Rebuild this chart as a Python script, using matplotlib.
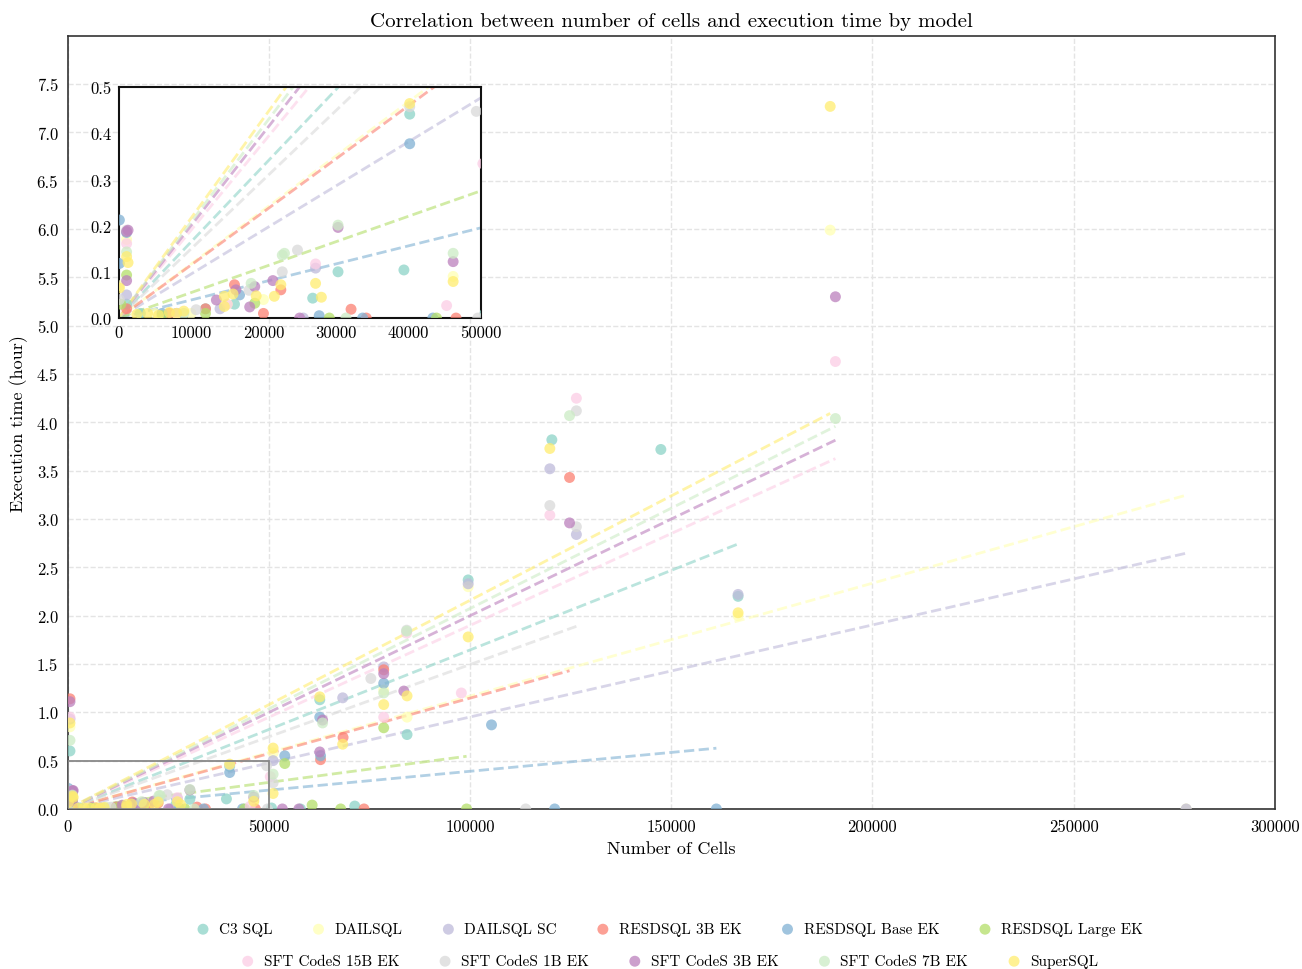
import numpy as np
import matplotlib
matplotlib.use("Agg")
import matplotlib.pyplot as plt
from matplotlib.patches import Rectangle
from matplotlib.ticker import StrMethodFormatter

plt.rcParams["font.family"] = ["cmr10", "DejaVu Serif"]
plt.rcParams["axes.unicode_minus"] = False

MODELS = [
    "C3 SQL", "DAILSQL", "DAILSQL SC", "RESDSQL 3B EK", "RESDSQL Base EK",
    "RESDSQL Large EK", "SFT CodeS 15B EK", "SFT CodeS 1B EK",
    "SFT CodeS 3B EK", "SFT CodeS 7B EK", "SuperSQL",
]
COLORS = [
    "#8dd3c7", "#ffffb3", "#bebada", "#fb8072", "#80b1d3", "#b3de69",
    "#fccde5", "#d9d9d9", "#bc80bd", "#ccebc5", "#ffed6f",
]

# number of cells / execution time (hour), one pair of lists per model
c3_cells = [500, 1100, 3000, 8000, 12000, 16000, 26800, 30300, 39400, 40200,
            50600, 57800, 62600, 71300, 84300, 99500, 120300, 147400, 166600]
c3_hours = [0.60, 0.03, 0.01, 0.01, 0.02, 0.03, 0.043, 0.10, 0.104, 0.441,
            0.01, 0.0, 1.13, 0.03, 0.77, 2.37, 3.82, 3.72, 2.20]

dail_cells = [100, 500, 1100, 5000, 10000, 15000, 20000, 46200, 51000, 78500,
              84300, 99500, 166600, 189500, 278000]
dail_hours = [0.07, 0.85, 0.17, 0.01, 0.01, 0.03, 0.04, 0.09, 0.58, 1.23,
              0.95, 2.30, 2.00, 5.99, 0.0]

dailsc_cells = [500, 1100, 8000, 14000, 25500, 27200, 51000, 68300, 78500,
                99500, 119800, 126400, 166600, 278000]
dailsc_hours = [0.93, 0.05, 0.01, 0.02, 0.0, 0.108, 0.50, 1.15, 1.47,
                2.33, 3.52, 2.84, 2.22, 0.0]

res3b_cells = [500, 1100, 7000, 12000, 16000, 20000, 22400, 32100, 34200,
               46600, 62800, 68400, 73600, 78500, 124700]
res3b_hours = [1.14, 0.02, 0.01, 0.02, 0.072, 0.01, 0.061, 0.019, 0.0,
               0.0, 0.51, 0.74, 0.0, 1.44, 3.43]

resbase_cells = [100, 100, 1100, 6000, 16700, 27700, 33700, 40200, 43400,
                 53900, 62600, 62800, 78500, 105300, 121000, 161200]
resbase_hours = [0.212, 0.118, 0.185, 0.01, 0.05, 0.005, 0.0, 0.377, 0.0,
                 0.55, 0.95, 0.55, 1.30, 0.87, 0.0, 0.0]

reslarge_cells = [300, 1100, 6000, 12000, 18800, 29100, 43900, 53900, 60700,
                  67800, 78500, 99100]
reslarge_hours = [0.03, 0.093, 0.005, 0.01, 0.032, 0.0, 0.0, 0.47, 0.04,
                  0.0, 0.84, 0.0]

sft15_cells = [500, 1100, 8000, 15000, 27200, 45300, 50300, 78500, 84200,
               97800, 119800, 126400, 190800]
sft15_hours = [0.95, 0.161, 0.01, 0.03, 0.117, 0.027, 0.334, 0.95, 1.82,
               1.20, 3.04, 4.25, 4.63]

sft1_cells = [100, 1100, 10700, 18000, 22600, 24700, 40200, 49400, 49600,
              51000, 75300, 84200, 113800, 119800, 126400, 126400]
sft1_hours = [0.04, 0.19, 0.018, 0.06, 0.10, 0.147, 0.457, 0.447, 0.0,
              0.27, 1.35, 1.85, 0.0, 3.14, 2.92, 4.12]

sft3_cells = [500, 1100, 1100, 1300, 13500, 16200, 18100, 18800, 21300, 25000,
              30300, 46200, 53300, 57400, 62600, 63300, 78500, 83500, 124700,
              190800]
sft3_hours = [1.11, 0.187, 0.081, 0.19, 0.039, 0.061, 0.024, 0.068, 0.081, 0.0,
              0.196, 0.122, 0.0, 0.0, 0.59, 0.92, 1.40, 1.22, 2.96, 5.30]

sft7_cells = [500, 1100, 9000, 18300, 22600, 22900, 30300, 31400, 46200, 51000,
              63300, 78500, 84200, 124700, 190800]
sft7_hours = [0.71, 0.143, 0.01, 0.075, 0.136, 0.14, 0.201, 0.0, 0.140, 0.36,
              0.89, 1.20, 1.84, 4.07, 4.04]

super_cells = [100, 500, 1100, 1300, 2500, 4000, 5500, 7000, 8000, 9000,
               14600, 14600, 15800, 19000, 21500, 22400, 27200, 28000, 40200,
               46200, 51000, 51000, 62600, 68300, 78500, 84300, 99500, 119800,
               166600, 189500]
super_hours = [0.065, 0.89, 0.133, 0.12, 0.008, 0.01, 0.006, 0.012, 0.01, 0.015,
               0.047, 0.025, 0.052, 0.048, 0.047, 0.072, 0.075, 0.045, 0.464,
               0.079, 0.63, 0.16, 1.16, 0.67, 1.08, 1.17, 1.78, 3.73,
               2.03, 7.27]

# fitted trend lines (hours per cell)
SLOPES = [1.646e-5, 1.168e-5, 9.52e-6, 1.147e-5, 3.9e-6, 5.5e-6,
          1.90e-5, 1.495e-5, 2.0e-5, 2.075e-5, 2.16e-5]
INTERCEPTS = [0.0] * 11

CELLS = [c3_cells, dail_cells, dailsc_cells, res3b_cells, resbase_cells,
         reslarge_cells, sft15_cells, sft1_cells, sft3_cells, sft7_cells,
         super_cells]
HOURS = [c3_hours, dail_hours, dailsc_hours, res3b_hours, resbase_hours,
         reslarge_hours, sft15_hours, sft1_hours, sft3_hours, sft7_hours,
         super_hours]

ZOOM_X = 50000
ZOOM_Y = 0.5

fig = plt.figure(figsize=(13.02, 9.70), dpi=100)
ax = fig.add_axes([0.0522, 0.165, 0.9268, 0.797])
axins = ax.inset_axes([0.042, 0.635, 0.30, 0.299])

handles = []
for name, color, cells, hours, m, b in zip(MODELS, COLORS, CELLS, HOURS,
                                           SLOPES, INTERCEPTS):
    cells = np.array(cells)
    hours = np.array(hours)
    xs = np.array([cells.min(), cells.max()])
    for a in (ax, axins):
        h = a.scatter(cells, hours, s=62, color=color, alpha=0.75,
                      edgecolors="none", label=name, zorder=3)
        a.plot(xs, m * xs + b, "--", color=color, lw=2, alpha=0.6, zorder=2)
    handles.append(h)

ax.set_xlim(0, 300000)
ax.set_ylim(0, 8)
ax.set_xticks(np.arange(0, 300001, 50000))
ax.set_yticks(np.arange(0, 7.6, 0.5))
ax.xaxis.set_major_formatter(StrMethodFormatter("{x:.0f}"))
ax.yaxis.set_major_formatter(StrMethodFormatter("{x:.1f}"))
ax.grid(True, ls="--", color="#e4e4e4", lw=1)
ax.set_axisbelow(True)
ax.tick_params(length=0, pad=7, labelsize=12)
for sp in ax.spines.values():
    sp.set_color("#333333")
    sp.set_linewidth(1.2)
ax.set_xlabel("Number of Cells", fontsize=13, labelpad=5)
ax.set_ylabel("Execution time (hour)", fontsize=13, labelpad=6)
ax.set_title("Correlation between number of cells and execution time by model",
             fontsize=15, pad=7)

ax.add_patch(Rectangle((0, 0), ZOOM_X, ZOOM_Y, fill=False, edgecolor="#888888",
                       lw=1.3, zorder=4))

axins.set_xlim(0, ZOOM_X)
axins.set_ylim(0, ZOOM_Y)
axins.set_xticks(np.arange(0, ZOOM_X + 1, 10000))
axins.set_yticks(np.arange(0, ZOOM_Y + 0.01, 0.1))
axins.xaxis.set_major_formatter(StrMethodFormatter("{x:.0f}"))
axins.yaxis.set_major_formatter(StrMethodFormatter("{x:.1f}"))
axins.tick_params(length=0, pad=5, labelsize=12)
axins.set_facecolor("white")
for sp in axins.spines.values():
    sp.set_color("#111111")
    sp.set_linewidth(1.5)

leg_kw = dict(frameon=False, fontsize=11, handlelength=0.5, handletextpad=0.8,
              columnspacing=2.75, loc="center")
fig.legend(handles[:6], MODELS[:6], ncol=6, bbox_to_anchor=(0.5154, 0.041), **leg_kw)
fig.legend(handles[6:], MODELS[6:], ncol=5, bbox_to_anchor=(0.5154, 0.008), **leg_kw)

fig.savefig("out.png", dpi=100)
